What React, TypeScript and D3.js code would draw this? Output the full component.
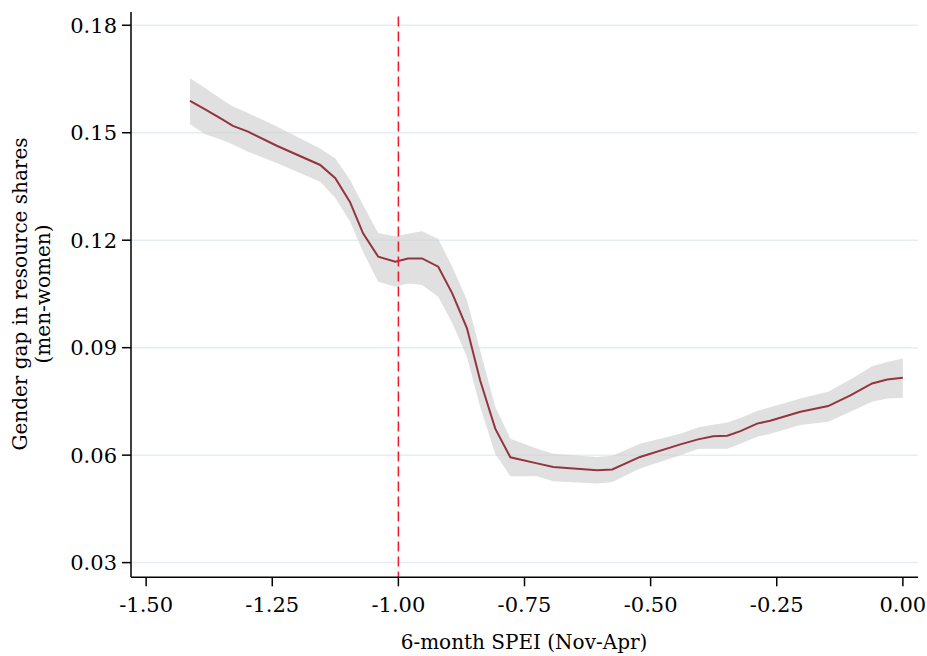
import React, { useEffect } from "react";
import * as d3 from "d3";

const xs = [-1.413, -1.383, -1.349, -1.328, -1.298, -1.24, -1.155, -1.125, -1.096, -1.07, -1.04, -1.006, -0.981, -0.953, -0.921, -0.893, -0.864, -0.838, -0.808, -0.778, -0.725, -0.693, -0.606, -0.576, -0.521, -0.441, -0.406, -0.376, -0.348, -0.322, -0.289, -0.263, -0.203, -0.148, -0.104, -0.061, -0.031, 0.0];
const est = [0.1589, 0.1565, 0.1537, 0.1519, 0.1503, 0.1463, 0.141, 0.1373, 0.1307, 0.1219, 0.1154, 0.114, 0.1149, 0.1149, 0.1126, 0.1051, 0.0954, 0.0809, 0.0674, 0.0594, 0.0577, 0.0567, 0.0558, 0.056, 0.0595, 0.063, 0.0644, 0.0653, 0.0654, 0.0667, 0.0688, 0.0696, 0.0721, 0.0737, 0.0767, 0.08, 0.0811, 0.0816];
const upper = [0.1652, 0.1625, 0.1592, 0.1573, 0.1555, 0.1517, 0.1456, 0.1428, 0.1369, 0.1298, 0.122, 0.1211, 0.1218, 0.1225, 0.1203, 0.1125, 0.1033, 0.0893, 0.0735, 0.0646, 0.0618, 0.0604, 0.0595, 0.0598, 0.0632, 0.066, 0.0677, 0.0685, 0.0691, 0.0704, 0.0723, 0.0734, 0.0758, 0.0777, 0.0811, 0.0848, 0.086, 0.087];
const lower = [0.1524, 0.1496, 0.148, 0.1467, 0.1447, 0.1415, 0.1363, 0.1318, 0.1253, 0.1167, 0.1084, 0.107, 0.1079, 0.1075, 0.1042, 0.0968, 0.0874, 0.0735, 0.0604, 0.0541, 0.0541, 0.0527, 0.0521, 0.0525, 0.0563, 0.06, 0.0617, 0.0618, 0.0618, 0.0632, 0.0651, 0.066, 0.0684, 0.0693, 0.0721, 0.0749, 0.0758, 0.076];

const xTicks = [-1.5, -1.25, -1.0, -0.75, -0.5, -0.25, 0.0];
const yTicks = [0.03, 0.06, 0.09, 0.12, 0.15, 0.18];
const refLine = -1.0;

const FONT = "'DejaVu Serif', serif";
const fmt = (v: number) => v.toFixed(2).replace("-0.00", "0.00");

export default function App() {
  useEffect(() => {
    document.body.style.margin = "0";
  }, []);
  const W = 927, H = 656;
  const x = d3.scaleLinear().domain([-1.53, 0.03]).range([131, 918]);
  const y = d3.scaleLinear().domain([0.0259, 0.1837]).range([577.3, 12]);
  const idx = d3.range(xs.length);
  const area = d3.area<number>().x((i) => x(xs[i])).y0((i) => y(lower[i])).y1((i) => y(upper[i]));
  const line = d3.line<number>().x((i) => x(xs[i])).y((i) => y(est[i]));
  const [x0, x1] = x.range();
  const [yb, yt] = y.range();
  return (
    <svg width={W} height={H} style={{ display: "block", background: "#fff" }} fontFamily={FONT}>
      {yTicks.map((t) => (
        <line key={"g" + t} x1={x0} x2={x1} y1={y(t)} y2={y(t)} stroke="#e4eef1" strokeWidth={1.5} />
      ))}
      <path d={area(idx) || ""} fill="#cfcfcf" fillOpacity={0.65} stroke="none" />
      <path d={line(idx) || ""} fill="none" stroke="#933440" strokeWidth={2} />
      <line x1={x(refLine)} x2={x(refLine)} y1={16.5} y2={yb} stroke="#f0182c" strokeWidth={1.5} strokeDasharray="10,5" />
      <line x1={x0} x2={x0} y1={yt} y2={yb} stroke="#000" strokeWidth={1.5} />
      <line x1={x0} x2={x1} y1={yb} y2={yb} stroke="#000" strokeWidth={1.5} />
      {yTicks.map((t) => (
        <g key={"y" + t}>
          <line x1={x0 - 9} x2={x0} y1={y(t)} y2={y(t)} stroke="#000" strokeWidth={1.5} />
          <text x={x0 - 14} y={y(t)} dy="0.36em" textAnchor="end" fontSize={21} fill="#000">
            {fmt(t)}
          </text>
        </g>
      ))}
      {xTicks.map((t) => (
        <g key={"x" + t}>
          <line x1={x(t)} x2={x(t)} y1={yb} y2={yb + 9} stroke="#000" strokeWidth={1.5} />
          <text x={x(t)} y={yb + 35} textAnchor="middle" fontSize={21} fill="#000">
            {fmt(t)}
          </text>
        </g>
      ))}
      <text x={524} y={649} textAnchor="middle" fontSize={20} fill="#000">
        6-month SPEI (Nov-Apr)
      </text>
      <g transform={`translate(27,294) rotate(-90)`}>
        <text x={0} y={0} textAnchor="middle" fontSize={20} fill="#000">
          Gender gap in resource shares
        </text>
        <text x={0} y={23} textAnchor="middle" fontSize={20} fill="#000">
          (men-women)
        </text>
      </g>
    </svg>
  );
}
